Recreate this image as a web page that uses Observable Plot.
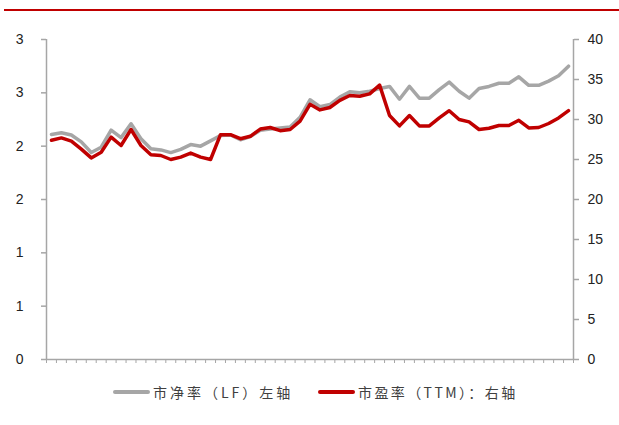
<!DOCTYPE html>
<html>
<head>
<meta charset="utf-8">
<script src="https://cdn.jsdelivr.net/npm/d3@7"></script>
<script src="https://cdn.jsdelivr.net/npm/@observablehq/plot@0.6"></script>
<style>
  html, body { margin: 0; padding: 0; background: #fff; }
  #wrap { width: 619px; height: 425px; position: relative; overflow: hidden; }
  #topline { position: absolute; left: 4px; top: 9px; width: 615px; height: 2px; background: #c00000; }
  #chart { position: absolute; left: 0; top: 11px; }
  #legend { position: absolute; left: 0; top: 380px; width: 619px; height: 24px;
            font-family: "Noto Sans CJK SC", "Noto Sans", sans-serif; font-size: 14px; color: #404040; }
  .item { position: absolute; top: 0; height: 24px; display: flex; align-items: center; }
  .sw { width: 37px; height: 4px; border-radius: 2px; margin-right: 3px; }
  .lab { white-space: nowrap; }
</style>
</head>
<body>
<div id="wrap">
  <div id="topline"></div>
  <div id="chart"></div>
  <div id="legend"></div>
</div>
<script>
// Categories (dates not shown on the reference axis): 53 periods
const categories = d3.range(53);

// 市净率（LF）— left axis
const pb = [2.11,2.125,2.105,2.04,1.94,1.99,2.15,2.08,2.21,2.07,
            1.975,1.965,1.94,1.97,2.015,2.0,2.05,2.10,2.105,2.06,
            2.09,2.15,2.16,2.17,2.18,2.27,2.435,2.37,2.39,2.46,
            2.51,2.50,2.515,2.54,2.56,2.44,2.56,2.45,2.45,2.53,
            2.60,2.515,2.45,2.54,2.56,2.59,2.59,2.65,2.57,2.57,
            2.61,2.66,2.75];

// 市盈率（TTM）— right axis
const pe = [27.4,27.7,27.3,26.3,25.2,25.9,27.8,26.75,28.75,26.75,
            25.6,25.5,25.0,25.3,25.8,25.3,25.0,28.1,28.1,27.6,
            27.9,28.8,29.0,28.6,28.75,29.8,31.9,31.2,31.5,32.4,
            33.0,32.9,33.2,34.3,30.5,29.2,30.5,29.2,29.2,30.2,
            31.1,30.0,29.7,28.75,28.9,29.25,29.25,29.9,28.95,29.0,
            29.5,30.2,31.1];

const seriesNames = ["市净率（LF）左轴", "市盈率（TTM）：右轴"];
const leftTicks = [0, 0.5, 1, 1.5, 2, 2.5, 3];
const rightTicks = [0, 5, 10, 15, 20, 25, 30, 35, 40];

const leftMax = 3, rightMax = 40;
const toLeft = v => v * leftMax / rightMax;

const gray = "#a6a6a6";
const red = "#c00000";
const axisColor = "#a6a6a6";

const pbData = categories.map((c, i) => ({i, v: pb[i]}));
const peData = categories.map((c, i) => ({i, v: pe[i]}));
const xTicks = d3.range(-0.5, categories.length, 1);

const chart = Plot.plot({
  width: 619,
  height: 360,
  marginLeft: 46,
  marginRight: 46,
  marginTop: 28,
  marginBottom: 12,
  style: {fontFamily: "'Liberation Sans', Arial, sans-serif", fontSize: "14px", color: "#222", background: "transparent"},
  x: {type: "linear", domain: [-0.5, categories.length - 0.5], axis: null},
  y: {domain: [0, leftMax], axis: null},
  marks: [
    Plot.ruleX([-0.5], {stroke: axisColor, strokeWidth: 1.5}),
    Plot.ruleX([categories.length - 0.5], {stroke: axisColor, strokeWidth: 1.5}),
    Plot.ruleY([0], {stroke: axisColor, strokeWidth: 1.5}),
    Plot.axisX(xTicks, {anchor: "bottom", tickSize: 4, stroke: axisColor, strokeWidth: 1, tickFormat: () => "", label: null}),
    Plot.axisY(leftTicks, {anchor: "left", tickSize: 5, tickPadding: 18, stroke: axisColor, strokeWidth: 1.5, fill: "#222",
      fontSize: 14, tickFormat: d => String(Math.round(d)), label: null}),
    Plot.axisY(rightTicks, {anchor: "right", y: d => toLeft(d), tickSize: 5, tickPadding: 9, stroke: axisColor, strokeWidth: 1.5, fill: "#222",
      fontSize: 14, tickFormat: d => String(d), label: null}),
    Plot.line(pbData, {x: "i", y: "v", stroke: gray, strokeWidth: 3.5, strokeLinejoin: "round"}),
    Plot.line(peData, {x: "i", y: d => toLeft(d.v), stroke: red, strokeWidth: 3.5, strokeLinejoin: "round"})
  ]
});
document.getElementById("chart").appendChild(chart);

const legend = document.getElementById("legend");
const items = [
  {name: seriesNames[0], color: gray, left: 113, ls: "3px"},
  {name: seriesNames[1], color: red, left: 318, ls: "2.4px"}
];
for (const it of items) {
  const div = document.createElement("div");
  div.className = "item";
  div.style.left = it.left + "px";
  const sw = document.createElement("span");
  sw.className = "sw";
  sw.style.background = it.color;
  const lab = document.createElement("span");
  lab.className = "lab";
  lab.style.letterSpacing = it.ls;
  lab.textContent = it.name;
  div.appendChild(sw);
  div.appendChild(lab);
  legend.appendChild(div);
}
</script>
</body>
</html>
